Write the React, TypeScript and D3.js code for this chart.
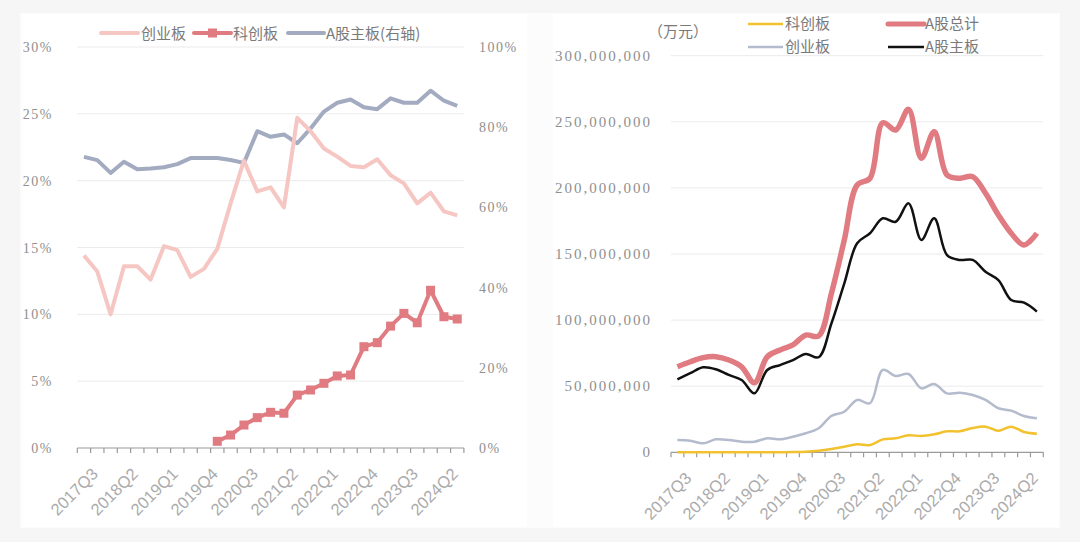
import React from 'react';
import * as d3 from 'd3';

const quarters = [
  '2017Q3', '2017Q4',
  '2018Q1', '2018Q2', '2018Q3', '2018Q4',
  '2019Q1', '2019Q2', '2019Q3', '2019Q4',
  '2020Q1', '2020Q2', '2020Q3', '2020Q4',
  '2021Q1', '2021Q2', '2021Q3', '2021Q4',
  '2022Q1', '2022Q2', '2022Q3', '2022Q4',
  '2023Q1', '2023Q2', '2023Q3', '2023Q4',
  '2024Q1', '2024Q2', '2024Q3',
];
const labeledQuarters = ['2017Q3', '2018Q2', '2019Q1', '2019Q4', '2020Q3', '2021Q2', '2022Q1', '2022Q4', '2023Q3', '2024Q2'];

// Left chart: shares (%)
const cybShare = [14.4, 13.2, 10.0, 13.6, 13.6, 12.6, 15.1, 14.8, 12.8, 13.4, 14.9, 18.3, 21.5, 19.2, 19.5, 18.0, 24.7, 23.7, 22.4, 21.8, 21.1, 21.0, 21.6, 20.4, 19.8, 18.3, 19.1, 17.7, 17.4];
const kcbShare: (number | null)[] = [null, null, null, null, null, null, null, null, null, null, 0.5, 0.97, 1.72, 2.27, 2.67, 2.6, 3.96, 4.34, 4.84, 5.39, 5.46, 7.58, 7.88, 9.12, 10.07, 9.37, 11.8, 9.82, 9.65];
const mainShare = [72.6, 71.8, 68.6, 71.4, 69.5, 69.7, 70.0, 70.8, 72.3, 72.3, 72.3, 71.8, 71.1, 79.0, 77.6, 78.2, 76.0, 79.7, 83.9, 86.1, 86.9, 85.0, 84.5, 87.2, 86.1, 86.1, 89.1, 86.6, 85.3];
const leftTicks = [0, 5, 10, 15, 20, 25, 30];
const rightTicks = [0, 20, 40, 60, 80, 100];

// Right chart: amounts (万元)
const kcbAmt = [0, 0, 0, 0, 0, 0, 0, 0, 0, 200000, 500000, 1200000, 2500000, 4200000, 6000000, 5500000, 9800000, 10600000, 12900000, 12300000, 13600000, 15900000, 15900000, 18400000, 19400000, 16300000, 19400000, 15400000, 14100000];
const totalAmt = [64700000, 68500000, 71600000, 72300000, 69800000, 64700000, 52600000, 72300000, 77400000, 81200000, 88700000, 88000000, 120300000, 160600000, 202200000, 207300000, 249300000, 243800000, 259400000, 222400000, 242500000, 209800000, 207300000, 208500000, 195900000, 179500000, 165700000, 156800000, 165700000];
const cybAmt = [9300000, 8800000, 6800000, 9800000, 9300000, 8000000, 8000000, 10600000, 9800000, 11800000, 14400000, 18200000, 27500000, 30700000, 39600000, 37100000, 62300000, 57700000, 59200000, 48400000, 51700000, 44600000, 45100000, 43300000, 39600000, 33300000, 31500000, 27500000, 25700000];
const mainAmt = [55200000, 59800000, 64300000, 62800000, 58500000, 54700000, 44600000, 62300000, 66000000, 69800000, 74400000, 71900000, 97600000, 127800000, 158100000, 165700000, 177000000, 174400000, 188300000, 160600000, 177000000, 149200000, 145500000, 145500000, 136600000, 130300000, 115200000, 113200000, 106400000];
const amtTicks = [0, 50000000, 100000000, 150000000, 200000000, 250000000, 300000000];

const SERIF = '"Liberation Serif", "DejaVu Serif", serif';
const SANS = '"Liberation Sans", Arial, sans-serif';
const CJK = '"Noto Sans CJK SC", "Noto Sans", sans-serif';

function XAxis({ x, y0, labelColor }: { x: d3.ScaleBand<string>; y0: number; labelColor: string }) {
  const [r0, r1] = x.range();
  const bw = x.bandwidth();
  const ticks = quarters.map((q) => x(q) as number).concat([r1]);
  return (
    <g>
      <line x1={r0} x2={r1} y1={y0} y2={y0} stroke="#9a9a9a" strokeWidth={1.2} />
      {ticks.map((t, i) => (
        <line key={i} x1={t} x2={t} y1={y0} y2={y0 + 5} stroke="#9a9a9a" strokeWidth={1.2} />
      ))}
      {labeledQuarters.map((q) => {
        const cx = (x(q) as number) + bw / 2;
        return (
          <text
            key={q}
            transform={`translate(${cx + 15},${y0 + 27}) rotate(-45)`}
            textAnchor="end"
            fontFamily={SANS}
            fontSize={16.5}
            fill={labelColor}
          >
            {q}
          </text>
        );
      })}
    </g>
  );
}

function LeftChart() {
  const x = d3.scaleBand<string>().domain(quarters).range([77.3, 463.9]);
  const yL = d3.scaleLinear().domain([0, 30]).range([448, 47]);
  const yR = d3.scaleLinear().domain([0, 100]).range([448, 47]);
  const cx = (i: number) => (x(quarters[i]) as number) + x.bandwidth() / 2;
  const lineL = d3.line<number | null>().defined((d) => d !== null).x((_, i) => cx(i)).y((d) => yL(d as number));
  const lineR = d3.line<number>().x((_, i) => cx(i)).y((d) => yR(d));
  const [g0, g1] = x.range();
  return (
    <g>
      {leftTicks.slice(1).map((t) => (
        <line key={t} x1={g0} x2={g1} y1={yL(t)} y2={yL(t)} stroke="#ebebeb" strokeWidth={1} />
      ))}
      {leftTicks.map((t) => (
        <text key={t} x={53} y={yL(t) + 5} textAnchor="end" fontFamily={SERIF} fontSize={14} letterSpacing={1.5} fill="#8f8f8f">
          {t}%
        </text>
      ))}
      {rightTicks.map((t) => (
        <text key={t} x={479} y={yR(t) + 5} textAnchor="start" fontFamily={SERIF} fontSize={14} letterSpacing={1.5} fill="#8f8f8f">
          {t}%
        </text>
      ))}
      <XAxis x={x} y0={448} labelColor="#ababab" />
      <path d={lineR(mainShare) || ''} fill="none" stroke="#a3abc0" strokeWidth={4} strokeLinejoin="round" />
      <path d={lineL(cybShare) || ''} fill="none" stroke="#f6c6c3" strokeWidth={4} strokeLinejoin="round" />
      <path d={lineL(kcbShare) || ''} fill="none" stroke="#e07b82" strokeWidth={4} strokeLinejoin="round" />
      {kcbShare.map((v, i) =>
        v === null ? null : (
          <rect key={i} x={cx(i) - 4.5} y={yL(v) - 4.5} width={9} height={9} fill="#e07b82" />
        )
      )}
      {/* legend */}
      <g fontFamily={CJK} fontSize={15} fill="#7a7a7a">
        <line x1={101} x2={138} y1={33} y2={33} stroke="#f6c6c3" strokeWidth={4} strokeLinecap="round" />
        <text x={141} y={38.5}>创业板</text>
        <line x1={194} x2={231} y1={33} y2={33} stroke="#e07b82" strokeWidth={4} strokeLinecap="round" />
        <rect x={208} y={28.5} width={9} height={9} fill="#e07b82" />
        <text x={233} y={38.5}>科创板</text>
        <line x1={288} x2={324} y1={33} y2={33} stroke="#a3abc0" strokeWidth={4} strokeLinecap="round" />
        <text x={326} y={38.5}>A股主板(右轴)</text>
      </g>
    </g>
  );
}

function RightChart() {
  const x = d3.scaleBand<string>().domain(quarters).range([671, 1043.3]);
  const y = d3.scaleLinear().domain([0, 300000000]).range([452.3, 55.7]);
  const cx = (i: number) => (x(quarters[i]) as number) + x.bandwidth() / 2;
  const line = d3.line<number>().x((_, i) => cx(i)).y((d) => y(d)).curve(d3.curveCatmullRom.alpha(0.5));
  const fmt = d3.format(',');
  const [g0, g1] = x.range();
  return (
    <g>
      {amtTicks.slice(1).map((t) => (
        <line key={t} x1={g0} x2={g1} y1={y(t)} y2={y(t)} stroke="#ebebeb" strokeWidth={1} />
      ))}
      {amtTicks.map((t) => (
        <text key={t} x={652} y={y(t) + 5} textAnchor="end" fontFamily={SERIF} fontSize={15} letterSpacing={2} fill="#8f8f8f">
          {fmt(t)}
        </text>
      ))}
      <XAxis x={x} y0={452.3} labelColor="#ababab" />
      <path d={line(cybAmt) || ''} fill="none" stroke="#b3bbcd" strokeWidth={2.5} strokeLinejoin="round" />
      <path d={line(kcbAmt) || ''} fill="none" stroke="#f2c12e" strokeWidth={2.5} strokeLinejoin="round" />
      <path d={line(mainAmt) || ''} fill="none" stroke="#111111" strokeWidth={2.5} strokeLinejoin="round" />
      <path d={line(totalAmt) || ''} fill="none" stroke="#e07b82" strokeWidth={5.5} strokeLinejoin="round" />
      <g fontFamily={CJK} fontSize={15} fill="#7a7a7a">
        <text x={648} y={37}>（万元）</text>
        <line x1={748} x2={783} y1={24} y2={24} stroke="#f2c12e" strokeWidth={2.5} />
        <text x={785} y={29}>科创板</text>
        <line x1={748} x2={783} y1={47} y2={47} stroke="#b3bbcd" strokeWidth={2.5} />
        <text x={785} y={52}>创业板</text>
        <line x1={888} x2={924} y1={24} y2={24} stroke="#e07b82" strokeWidth={5} strokeLinecap="round" />
        <text x={925} y={29}>A股总计</text>
        <line x1={888} x2={924} y1={47} y2={47} stroke="#111111" strokeWidth={2.5} />
        <text x={925} y={52}>A股主板</text>
      </g>
    </g>
  );
}

export default function App() {
  return (
    <div style={{ position: 'fixed', left: 0, top: 0 }}>
      <svg width={1080} height={542} viewBox="0 0 1080 542" style={{ display: 'block' }}>
        <rect x={0} y={0} width={1080} height={542} fill="#f6f6f6" />
        <rect x={20} y={13} width={1040} height={515} fill="#fcfcfc" />
        <rect x={22} y={14} width={505} height={513} fill="#ffffff" />
        <rect x={553} y={14} width={506} height={513} fill="#ffffff" />
        <LeftChart />
        <RightChart />
      </svg>
    </div>
  );
}
